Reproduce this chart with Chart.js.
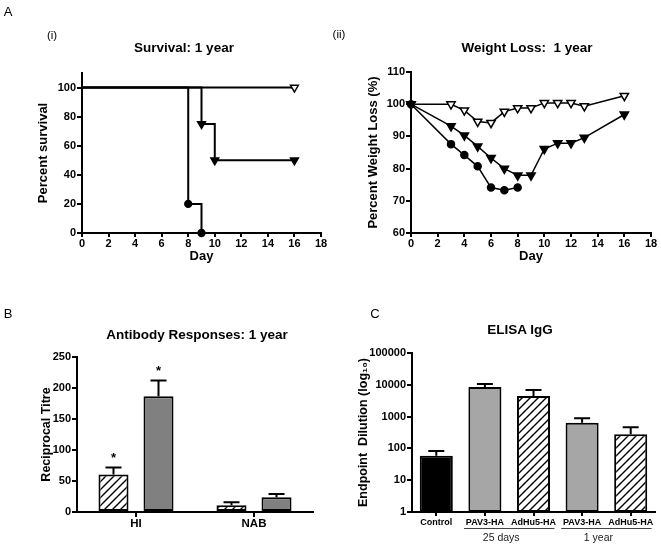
<!DOCTYPE html>
<html><head><meta charset="utf-8">
<script src="https://cdn.jsdelivr.net/npm/chart.js@4.4.0/dist/chart.umd.min.js"></script>
<style>
html,body{margin:0;padding:0;background:#fff;overflow:hidden;}
#wrap{position:relative;width:661px;height:547px;overflow:hidden;font-family:"Liberation Sans",Arial,Helvetica,sans-serif;color:#000;}
canvas{position:absolute;}
.t{position:absolute;white-space:nowrap;transform:translate(-50%,-50%);line-height:1;}
.ttl{font-weight:bold;font-size:13.5px;}
.lbl{font-size:13px;}
.sub{font-size:11.5px;}
</style></head><body>
<div id="wrap">
<canvas id="c1" width="330" height="270" style="left:0;top:0"></canvas>
<canvas id="c2" width="331" height="270" style="left:330px;top:0"></canvas>
<canvas id="c3" width="330" height="277" style="left:0;top:270px"></canvas>
<canvas id="c4" width="331" height="277" style="left:330px;top:270px"></canvas>
<div class="t lbl" style="left:8px;top:11px">A</div>
<div class="t sub" style="left:52px;top:36px">(i)</div>
<div class="t sub" style="left:339px;top:35px">(ii)</div>
<div class="t lbl" style="left:8px;top:313px">B</div>
<div class="t lbl" style="left:375px;top:313px">C</div>
<div class="t ttl" style="left:184px;top:48px">Survival: 1 year</div>
<div class="t ttl" style="left:527px;top:48px">Weight Loss:&nbsp; 1 year</div>
<div class="t ttl" style="left:197px;top:335px">Antibody Responses: 1 year</div>
<div class="t ttl" style="left:520px;top:330px">ELISA IgG</div>
</div>
<script>
// ---------- DATA ----------
// A(i) Survival
const survDaysOpen = [0, 16];
const survOpen = [100, 100];
const survDaysFilled = [0, 9, 10, 16];
const survFilled = [100, 75, 50, 50];
const survDaysCircle = [0, 8, 9];
const survCircle = [100, 20, 0];
const dayTicks = [0, 2, 4, 6, 8, 10, 12, 14, 16, 18];

// A(ii) Weight loss
const wlDaysOpen = [0, 3, 4, 5, 6, 7, 8, 9, 10, 11, 12, 13, 16];
const wlOpen = [100, 100, 98.1, 94.6, 94.2, 97.7, 98.8, 98.8, 100.4, 100.4, 100.4, 99.4, 102.6];
const wlDaysFilled = [0, 3, 4, 5, 6, 7, 8, 9, 10, 11, 12, 13, 16];
const wlFilled = [100, 93.2, 90.3, 86.9, 83.3, 80.0, 77.9, 77.9, 86.1, 87.9, 87.9, 89.6, 96.8];
const wlDaysCircle = [0, 3, 4, 5, 6, 7, 8];
const wlCircle = [100, 87.6, 84.2, 80.7, 74.1, 73.3, 74.1];

// B Antibody responses
const abCats = ['HI', 'NAB'];
const abHatched = [60.4, 10.8];
const abHatchedSem = [11.4, 4.8];
const abHatchedSig = ['*', ''];
const abGray = [186.5, 23.7];
const abGraySem = [25.5, 5.4];
const abGraySig = ['*', ''];

// C ELISA IgG
const elisaCats = ['Control', 'PAV3-HA', 'AdHu5-HA', 'PAV3-HA', 'AdHu5-HA'];
const elisaVals = [59, 8500, 4450, 645, 277];
const elisaSem = [24, 2100, 2450, 240, 183];
const elisaFill = ['black', 'gray', 'hatch', 'gray', 'hatch'];
const groupLabels = ['25 days', '1 year'];
const groupStart = [1, 3];
const groupEnd = [2, 4];

// ---------- HELPERS ----------
const FONT = '"Liberation Sans", Arial, Helvetica, sans-serif';
Chart.defaults.font.family = FONT;
Chart.defaults.color = '#000';
const pts = (xs, ys) => xs.map((x, i) => ({x: x, y: ys[i]}));

function hatch() {
  const s = 8;
  const c = document.createElement('canvas'); c.width = s; c.height = s;
  const g = c.getContext('2d');
  g.fillStyle = '#fff'; g.fillRect(0, 0, s, s);
  g.strokeStyle = '#000'; g.lineWidth = 1.4;
  g.beginPath();
  g.moveTo(0, s); g.lineTo(s, 0);
  g.moveTo(-s / 2, s / 2); g.lineTo(s / 2, -s / 2);
  g.moveTo(s / 2, s * 1.5); g.lineTo(s * 1.5, s / 2);
  g.stroke();
  return g.createPattern(c, 'repeat');
}
const HATCH = hatch();

function axis(o) {
  const ticks = {color: '#000', font: {family: FONT, size: o.fontSize || 11, weight: 'bold'},
            padding: o.pad === undefined ? 1 : o.pad, autoSkip: false, maxRotation: 0, minRotation: 0};
  if (o.step) ticks.stepSize = o.step;
  if (o.callback) ticks.callback = o.callback;
  const a = {
    type: o.type,
    offset: o.offset || false,
    border: {display: true, color: '#000', width: 2},
    grid: {display: true, drawOnChartArea: false, drawTicks: true, tickLength: o.tickLength || 5,
           tickWidth: 2, tickColor: '#000', color: '#000', lineWidth: 2, offset: false},
    ticks: ticks,
    title: o.title ? {display: true, text: o.title, color: '#000',
            font: {family: FONT, size: o.titleSize || 13, weight: 'bold'},
            padding: o.titlePad} : {display: false}
  };
  if (o.min !== undefined) a.min = o.min;
  if (o.max !== undefined) a.max = o.max;
  if (o.fit) a.afterFit = o.fit;
  if (o.filter) a.afterBuildTicks = o.filter;
  return a;
}

const errPlugin = {
  id: 'errbars',
  afterDatasetsDraw(chart) {
    const ctx = chart.ctx, y = chart.scales.y;
    chart.data.datasets.forEach((ds, di) => {
      if (!ds.sem) return;
      const meta = chart.getDatasetMeta(di);
      meta.data.forEach((bar, i) => {
        const top = y.getPixelForValue(ds.data[i] + ds.sem[i]);
        ctx.save();
        ctx.strokeStyle = '#000'; ctx.lineWidth = 2;
        ctx.beginPath();
        ctx.moveTo(bar.x, bar.y); ctx.lineTo(bar.x, top);
        ctx.moveTo(bar.x - 8, top); ctx.lineTo(bar.x + 8, top);
        ctx.stroke();
        if (ds.sig && ds.sig[i]) {
          ctx.fillStyle = '#000';
          ctx.font = 'bold 13px ' + FONT;
          ctx.textAlign = 'center'; ctx.textBaseline = 'middle';
          ctx.fillText(ds.sig[i], bar.x, top - 9);
        }
        ctx.restore();
      });
    });
  }
};

const groupPlugin = {
  id: 'groups',
  afterDraw(chart) {
    const x = chart.scales.x, ctx = chart.ctx;
    const cw = x.getPixelForValue(1) - x.getPixelForValue(0);
    groupLabels.forEach((lab, g) => {
      const x1 = x.getPixelForValue(groupStart[g]) - cw * 0.43;
      const x2 = x.getPixelForValue(groupEnd[g]) + cw * 0.43;
      ctx.save();
      ctx.strokeStyle = '#444'; ctx.lineWidth = 1;
      ctx.beginPath(); ctx.moveTo(x1, 258.5); ctx.lineTo(x2, 258.5); ctx.stroke();
      ctx.fillStyle = '#222';
      ctx.font = '10.5px ' + FONT;
      ctx.textAlign = 'center'; ctx.textBaseline = 'middle';
      ctx.fillText(lab, (x1 + x2) / 2 - 8, 268);
      ctx.restore();
    });
  }
};

const noPlugins = {legend: {display: false}, tooltip: {enabled: false}};
const fixW = w => s => { s.width = w; };
const fixH = h => s => { s.height = h; };

function lineDs(xs, ys, style, filled, r, bw, hideFirst) {
  return {
    data: pts(xs, ys),
    borderColor: '#000', borderWidth: bw,
    pointStyle: style, pointRotation: style === 'triangle' ? 180 : 0,
    pointRadius: hideFirst ? (c => c.dataIndex === 0 ? 0 : r) : r,
    pointBackgroundColor: filled ? '#000' : '#fff',
    pointBorderColor: '#000', pointBorderWidth: 1.5,
    fill: false, tension: 0, clip: false
  };
}

// ---------- A(i) Survival ----------
new Chart(document.getElementById('c1'), {
  type: 'line',
  data: {datasets: [
    Object.assign(lineDs(survDaysCircle, survCircle, 'circle', true, 3.4, 2, true), {stepped: 'before'}),
    Object.assign(lineDs(survDaysFilled, survFilled, 'triangle', true, 4.5, 2, true), {stepped: 'before'}),
    Object.assign(lineDs(survDaysOpen, survOpen, 'triangle', false, 4.5, 2, true), {stepped: 'before'})
  ]},
  options: {
    responsive: false, animation: false,
    layout: {padding: {left: 0, top: 73, right: 9, bottom: 0}},
    plugins: noPlugins,
    scales: {
      x: axis({type: 'linear', min: 0, max: 18, step: 2, pad: 0, tickLength: 4, title: 'Day', titlePad: {top: 0, bottom: 6}, fit: fixH(37),
               filter: s => { s.ticks = dayTicks.map(v => ({value: v})); }}),
      y: axis({type: 'linear', min: 0, max: 110, step: 20, title: 'Percent survival', titlePad: {top: 36, bottom: 0}, fit: fixW(82),
               filter: s => { s.ticks = s.ticks.filter(t => t.value <= 100); }})
    }
  }
});

// ---------- A(ii) Weight loss ----------
new Chart(document.getElementById('c2'), {
  type: 'line',
  data: {datasets: [
    lineDs(wlDaysCircle, wlCircle, 'circle', true, 3.5, 1.5, false),
    lineDs(wlDaysFilled, wlFilled, 'triangle', true, 4.8, 1.5, false),
    lineDs(wlDaysOpen, wlOpen, 'triangle', false, 4.8, 1.5, false)
  ]},
  options: {
    responsive: false, animation: false,
    layout: {padding: {left: 0, top: 72, right: 10, bottom: 0}},
    plugins: noPlugins,
    scales: {
      x: axis({type: 'linear', min: 0, max: 18, step: 2, pad: 0, tickLength: 4, title: 'Day', titlePad: {top: 0, bottom: 6}, fit: fixH(37),
               filter: s => { s.ticks = dayTicks.map(v => ({value: v})); }}),
      y: axis({type: 'linear', min: 60, max: 110, step: 10, title: 'Percent Weight Loss (%)', titlePad: {top: 36, bottom: 0}, fit: fixW(81)})
    }
  }
});

// ---------- B Antibody responses ----------
new Chart(document.getElementById('c3'), {
  type: 'bar',
  data: {labels: abCats, datasets: [
    {data: abHatched, sem: abHatchedSem, sig: abHatchedSig, backgroundColor: HATCH, borderColor: '#000', borderWidth: 2, borderSkipped: false,
     categoryPercentage: 0.763, barPercentage: 0.667},
    {data: abGray, sem: abGraySem, sig: abGraySig, backgroundColor: '#808080', borderColor: '#000', borderWidth: 2, borderSkipped: false,
     categoryPercentage: 0.763, barPercentage: 0.667}
  ]},
  plugins: [errPlugin],
  options: {
    responsive: false, animation: false,
    layout: {padding: {left: 0, top: 87, right: 17, bottom: 0}},
    plugins: noPlugins,
    scales: {
      x: axis({type: 'category', offset: true, pad: 0, fontSize: 11.5, fit: fixH(35)}),
      y: axis({type: 'linear', min: 0, max: 250, step: 50, title: 'Reciprocal Titre', titleSize: 12.5, titlePad: {top: 39, bottom: 0}, fit: fixW(77)})
    }
  }
});

// ---------- C ELISA IgG ----------
const fillMap = {black: '#000', gray: '#a6a6a6', hatch: HATCH};
new Chart(document.getElementById('c4'), {
  type: 'bar',
  data: {labels: elisaCats, datasets: [
    {data: elisaVals, sem: elisaSem, backgroundColor: elisaFill.map(f => fillMap[f]), borderColor: '#000', borderWidth: 2, borderSkipped: false,
     categoryPercentage: 1, barPercentage: 0.68}
  ]},
  plugins: [errPlugin, groupPlugin],
  options: {
    responsive: false, animation: false,
    layout: {padding: {left: 0, top: 83, right: 6, bottom: 0}},
    plugins: noPlugins,
    scales: {
      x: axis({type: 'category', offset: true, pad: 1, fontSize: 9, tickLength: 4, fit: fixH(35)}),
      y: axis({type: 'logarithmic', min: 1, max: 100000, title: 'Endpoint  Dilution (log\u2081\u2080)', titleSize: 12.5,
               titlePad: {top: 26, bottom: 0}, fit: fixW(82),
               callback: v => String(v),
               filter: s => { s.ticks = s.ticks.filter(t => { const l = Math.round(Math.log10(t.value)); return Math.abs(t.value - Math.pow(10, l)) < 1e-6; }); }})
    }
  }
});
</script>
</body></html>
